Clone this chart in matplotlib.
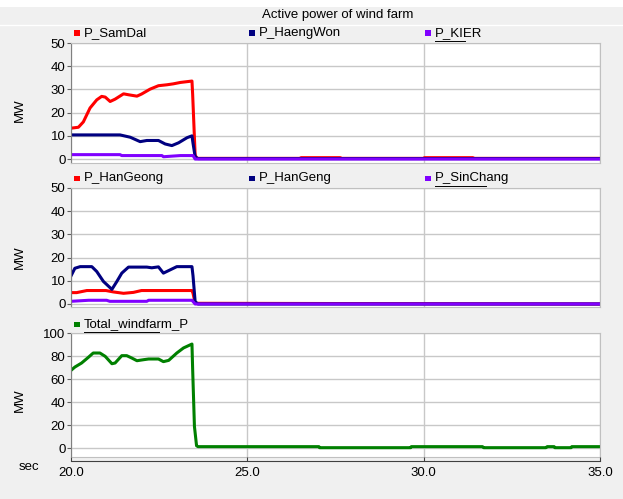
import numpy as np
import matplotlib.pyplot as plt
from matplotlib.patches import Rectangle
from matplotlib.lines import Line2D

plt.rcParams['font.family'] = ['Liberation Sans', 'DejaVu Sans']
plt.rcParams['font.size'] = 9.5

# time axis (sec) and series
t_samdal = [20.0, 20.21, 20.35, 20.54, 20.73, 20.87, 20.97, 21.11, 21.25, 21.49, 21.63,
            21.87, 22.0, 22.24, 22.48, 22.72, 22.9, 23.1, 23.43, 23.45, 23.52, 23.57,
            26.5, 26.52, 27.64, 27.66, 30.0, 30.02, 31.4, 31.42, 35.0]
p_samdal = [13.3, 13.7, 16.0, 22.0, 25.5, 27.0, 26.7, 24.8, 25.8, 28.1, 27.7,
            27.1, 28.0, 30.1, 31.6, 32.0, 32.4, 33.0, 33.6, 27.7, 1.7, 0.3,
            0.3, 0.6, 0.6, 0.3, 0.3, 0.6, 0.6, 0.3, 0.3]

t_haengwon = [20.0, 21.39, 21.68, 21.96, 22.15, 22.48, 22.67, 22.86, 23.05, 23.29, 23.43,
              23.46, 23.52, 23.6, 35.0]
p_haengwon = [10.4, 10.4, 9.4, 7.5, 8.0, 8.0, 6.5, 5.8, 7.0, 9.2, 10.0,
              6.8, 1.0, 0.2, 0.2]

t_kier = [20.0, 21.39, 21.44, 22.58, 22.62, 23.1, 23.46, 23.52, 35.0]
p_kier = [1.9, 1.9, 1.5, 1.5, 1.0, 1.5, 1.5, 0.0, 0.0]

t_hangeong = [20.0, 20.16, 20.45, 20.99, 21.2, 21.49, 21.77, 22.0, 23.43, 23.46, 23.52, 35.0]
p_hangeong = [4.9, 4.9, 5.8, 5.8, 5.2, 4.6, 5.0, 5.8, 5.8, 4.6, 0.3, 0.0]

t_hangeng = [20.0, 20.11, 20.26, 20.59, 20.73, 20.92, 21.16, 21.30, 21.44, 21.63, 22.15,
             22.29, 22.48, 22.62, 22.81, 23.0, 23.43, 23.46, 23.52, 23.6, 35.0]
p_hangeng = [12.1, 15.4, 16.1, 16.1, 14.0, 9.7, 6.3, 9.7, 13.3, 15.9, 15.9,
             15.6, 16.0, 13.3, 14.7, 16.1, 16.1, 12.1, 1.0, 0.0, 0.0]

t_sinchang = [20.0, 20.5, 21.01, 21.1, 22.15, 22.2, 23.43, 23.52, 35.0]
p_sinchang = [1.15, 1.6, 1.6, 1.15, 1.15, 1.6, 1.6, 0.0, 0.0]

t_total = [20.0, 20.11, 20.3, 20.49, 20.63, 20.82, 20.97, 21.16, 21.25, 21.44, 21.58,
           21.72, 21.87, 22.06, 22.2, 22.48, 22.62, 22.77, 23.0, 23.19, 23.43, 23.45,
           23.5, 23.56, 23.6, 27.03, 27.05, 29.63, 29.65, 31.67, 31.7, 33.47, 33.5,
           33.7, 33.72, 34.18, 34.2, 35.0]
p_total = [67.5, 70.4, 73.9, 78.8, 82.6, 82.6, 79.7, 73.3, 73.9, 80.3, 80.3,
           78.3, 75.9, 76.8, 77.4, 77.4, 75.1, 76.2, 82.6, 87.0, 90.4, 68.0,
           18.8, 2.0, 1.2, 1.2, 0.3, 0.3, 1.2, 1.2, 0.3, 0.3, 1.2,
           1.2, 0.3, 0.3, 1.2, 1.2]

W, H = 623, 499
fig = plt.figure(figsize=(W / 100, H / 100), dpi=100)
fig.patch.set_facecolor('#f0f0f0')

# white top strip and title separator
fig.add_artist(Rectangle((0, 1 - 7 / H), 1, 7 / H, transform=fig.transFigure,
                         facecolor='white', edgecolor='none'))
fig.add_artist(Line2D([0, 1], [1 - 24.5 / H] * 2, transform=fig.transFigure,
                      color='white', lw=1))
fig.text(338 / W, 1 - 15 / H, 'Active power of wind farm', ha='center', va='center')


def px_rect(left, top, right, bottom):
    return [left / W, 1 - bottom / H, (right - left) / W, (bottom - top) / H]


def style_axis(ax, ylim, yticks):
    ax.set_facecolor('white')
    ax.set_xlim(20, 35)
    ax.set_ylim(*ylim)
    ax.set_yticks(yticks)
    ax.set_xticks([20, 25, 30, 35])
    ax.grid(True, color='#c8c8c8', lw=1)
    ax.set_axisbelow(True)
    for s in ['top', 'right', 'bottom']:
        ax.spines[s].set_color('#c0c0c0')
    ax.spines['left'].set_color('#808080')
    ax.tick_params(axis='y', length=3, pad=1, color='#606060')
    ax.tick_params(axis='x', length=0, labelbottom=False)


def legend_item(x, y, label, color, underline=None):
    fig.add_artist(Rectangle(((x) / W, 1 - (y + 2.5) / H), 6 / W, 5 / H,
                             transform=fig.transFigure, facecolor=color, edgecolor='none'))
    fig.text((x + 10) / W, 1 - y / H, label, ha='left', va='center')
    if underline is not None:
        fig.add_artist(Line2D([(x + 10) / W, underline / W], [1 - (y + 7.5) / H] * 2,
                              transform=fig.transFigure, color='black', lw=0.7))


lw = 2.2

ax1 = fig.add_axes(px_rect(71, 43, 600, 163))
style_axis(ax1, (-1.7, 50), [0, 10, 20, 30, 40, 50])
ax1.plot(t_samdal, p_samdal, color='#ff0000', lw=lw)
ax1.plot(t_haengwon, p_haengwon, color='#000080', lw=lw)
ax1.plot(t_kier, p_kier, color='#8000ff', lw=lw)
legend_item(74, 33, 'P_SamDal', '#ff0000')
legend_item(249, 33, 'P_HaengWon', '#000080')
legend_item(425, 33, 'P_KIER', '#8000ff', underline=465)
fig.text(20 / W, 1 - 110 / H, 'MW', rotation=90, ha='center', va='center')

ax2 = fig.add_axes(px_rect(71, 188, 600, 307))
style_axis(ax2, (-1.3, 50), [0, 10, 20, 30, 40, 50])
ax2.plot(t_hangeong, p_hangeong, color='#ff0000', lw=lw)
ax2.plot(t_hangeng, p_hangeng, color='#000080', lw=lw)
ax2.plot(t_sinchang, p_sinchang, color='#8000ff', lw=lw)
legend_item(74, 178, 'P_HanGeong', '#ff0000')
legend_item(249, 178, 'P_HanGeng', '#000080')
legend_item(425, 178, 'P_SinChang', '#8000ff', underline=486)
fig.text(20 / W, 1 - 257 / H, 'MW', rotation=90, ha='center', va='center')

ax3 = fig.add_axes(px_rect(71, 333, 600, 457))
style_axis(ax3, (-7.8, 100), [0, 20, 40, 60, 80, 100])
ax3.plot(t_total, p_total, color='#008000', lw=lw)
legend_item(74, 324, 'Total_windfarm_P', '#008000', underline=159)
fig.text(20 / W, 1 - 400 / H, 'MW', rotation=90, ha='center', va='center')

# separate time axis below the last panel
axx = fig.add_axes(px_rect(71, 460, 600, 461))
axx.set_xlim(20, 35)
axx.set_facecolor('none')
for s in ['top', 'left', 'right']:
    axx.spines[s].set_visible(False)
axx.spines['bottom'].set_color('#404040')
axx.set_yticks([])
axx.set_xticks([20, 25, 30, 35])
axx.set_xticklabels(['20.0', '25.0', '30.0', '35.0'])
axx.tick_params(axis='x', direction='in', length=3, pad=4, color='#404040')
fig.text(29 / W, 1 - 467 / H, 'sec', ha='center', va='center')

fig.savefig('out.png', dpi=100, facecolor=fig.get_facecolor())
